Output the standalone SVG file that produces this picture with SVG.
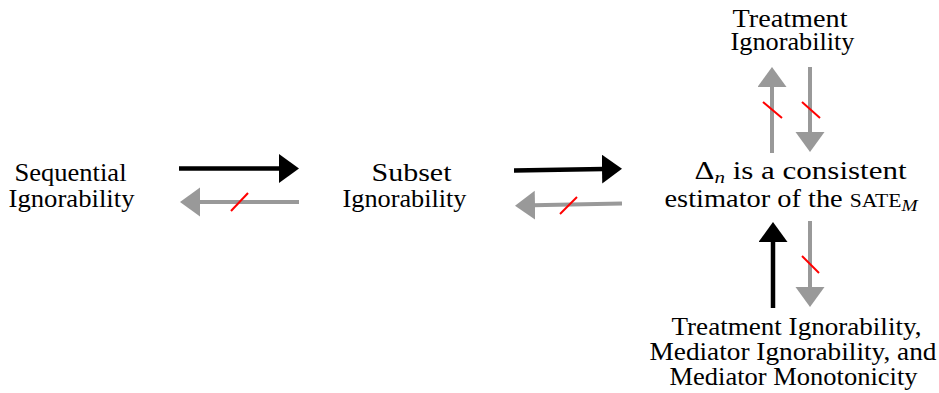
<svg xmlns="http://www.w3.org/2000/svg" width="939" height="393" viewBox="0 0 939 393">
<style>
  .blk { stroke: #000; stroke-width: 4.5; fill: none; marker-end: url(#hb); }
  .gry { stroke: #999; stroke-width: 4; fill: none; marker-end: url(#hg); }
  .neg { stroke: #f00; stroke-width: 2; }
</style>
<defs>
  <marker id="hb" markerUnits="userSpaceOnUse" markerWidth="22" markerHeight="30" refX="2" refY="14.5" orient="auto" viewBox="0 0 22 30">
    <path d="M0,0 L20,14.5 L0,29 z" fill="#000"/>
  </marker>
  <marker id="hg" markerUnits="userSpaceOnUse" markerWidth="22" markerHeight="30" refX="2" refY="14.5" orient="auto" viewBox="0 0 22 30">
    <path d="M0,0 L20,14.5 L0,29 z" fill="#999"/>
  </marker>
</defs>

<g id="sequential">
  <text font-family="Liberation Serif" font-size="25" x="14.5" y="181" textLength="112" lengthAdjust="spacingAndGlyphs">Sequential</text>
  <text font-family="Liberation Serif" font-size="25" x="8.5" y="207" textLength="126" lengthAdjust="spacingAndGlyphs">Ignorability</text>
</g>
<g id="subset">
  <text font-family="Liberation Serif" font-size="25" x="371.5" y="181" textLength="80" lengthAdjust="spacingAndGlyphs">Subset</text>
  <text font-family="Liberation Serif" font-size="25" x="342.5" y="207" textLength="124" lengthAdjust="spacingAndGlyphs">Ignorability</text>
</g>
<g id="treatment">
  <text font-family="Liberation Serif" font-size="25" x="732.5" y="27" textLength="115" lengthAdjust="spacingAndGlyphs">Treatment</text>
  <text font-family="Liberation Serif" font-size="25" x="730.5" y="50" textLength="124" lengthAdjust="spacingAndGlyphs">Ignorability</text>
</g>
<g id="consistent">
  <text font-family="Liberation Serif" font-size="25" x="694.5" y="179" textLength="212" lengthAdjust="spacingAndGlyphs">Δ<tspan font-style="italic" font-size="17" dy="4">n</tspan><tspan dy="-4"> is a consistent</tspan></text>
  <text font-family="Liberation Serif" font-size="25" x="664.5" y="207" textLength="253" lengthAdjust="spacingAndGlyphs">estimator of the <tspan font-size="19">SATE</tspan><tspan font-style="italic" font-size="17" dy="4">M</tspan></text>
</g>
<g id="combined">
  <text font-family="Liberation Serif" font-size="25" x="671.5" y="335" textLength="250" lengthAdjust="spacingAndGlyphs">Treatment Ignorability,</text>
  <text font-family="Liberation Serif" font-size="25" x="649.5" y="360" textLength="287" lengthAdjust="spacingAndGlyphs">Mediator Ignorability, and</text>
  <text font-family="Liberation Serif" font-size="25" x="669.5" y="385" textLength="248" lengthAdjust="spacingAndGlyphs">Mediator Monotonicity</text>
</g>

<g id="connectors">
  <line class="blk" x1="179" y1="168.5" x2="281" y2="168.5"/>
  <line class="gry" x1="299" y1="202" x2="198" y2="202"/>
  <line class="neg" x1="231" y1="211" x2="248" y2="193"/>

  <line class="blk" x1="514" y1="170.5" x2="604" y2="169"/>
  <line class="gry" x1="622" y1="203.5" x2="533" y2="205.3"/>
  <line class="neg" x1="560" y1="214" x2="577" y2="197"/>

  <line class="gry" x1="772" y1="153" x2="772" y2="85"/>
  <line class="neg" x1="763" y1="102" x2="782" y2="118"/>
  <line class="gry" x1="810" y1="67" x2="810" y2="134"/>
  <line class="neg" x1="802" y1="102" x2="820" y2="118"/>

  <line class="blk" x1="773" y1="308" x2="773" y2="240"/>
  <line class="gry" x1="810" y1="221" x2="810" y2="289"/>
  <line class="neg" x1="802" y1="256" x2="819" y2="273"/>
</g>
</svg>
